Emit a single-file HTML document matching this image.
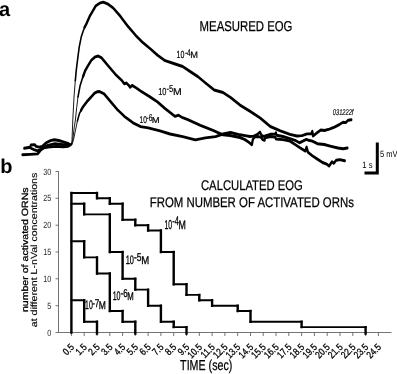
<!DOCTYPE html>
<html><head><meta charset="utf-8"><title>EOG figure</title>
<style>
html,body{margin:0;padding:0;background:#fff;}
body{width:397px;height:374px;overflow:hidden;font-family:"Liberation Sans",sans-serif;}
svg{display:block;will-change:transform;}
svg text{font-family:"Liberation Sans",sans-serif;fill:#000;text-rendering:geometricPrecision;}
</style></head><body>
<svg width="397" height="374" viewBox="0 0 397 374">
<rect width="397" height="374" fill="#fff"/>
<!-- panel a -->
<text x="-1" y="16.2" font-size="20" font-weight="bold">a</text>
<text transform="translate(199.6,31.3) scale(0.795,1)" font-size="14.3" stroke="#000" stroke-width="0.25">MEASURED EOG</text>
<g fill="none" stroke="#000" stroke-linejoin="round" stroke-linecap="round">
<g stroke-width="0.9">
<path d="M71.40 144.8 L72.00 140.2 L72.80 120.0 L74.00 97.0 L75.30 80.7"/><path d="M71.60 144.8 L72.70 140.2 L74.30 126.8 L75.40 120.0 L76.70 107.5 L78.00 96.8"/><path d="M71.80 144.8 L73.40 140.2 L75.40 130.8 L77.40 121.0"/>
</g>
<g stroke-width="1.6">
<path d="M75.30 80.7 L76.30 70.0 L77.40 61.2 L79.20 47.1 L81.20 37.1 L83.20 31.0 L85.20 26.0"/><path d="M78.00 96.8 L80.00 86.1 L82.50 78.0 L83.60 75.4"/><path d="M77.40 121.0 L79.40 113.6 L81.50 109.6"/>
</g>
<g stroke-width="2.9" transform="scale(0.78,1)">
<path d="M108.33 27.3 L110.38 24.5 L115.64 15.3 L122.95 5.7 L127.69 3.2 L132.44 2.2 L137.82 3.8 L145.13 8.0 L154.49 16.4 L164.10 26.4 L173.85 35.3 L183.46 42.8 L193.21 49.1 L202.05 55.2 L211.67 60.7 L224.62 64.0 L234.23 66.5 L243.97 71.6 L253.72 76.6 L263.33 82.9 L274.62 90.0 L285.90 92.5 L295.64 97.5 L307.69 105.1 L320.77 111.4 L333.59 118.0 L346.54 126.5 L359.49 130.8 L371.79 134.3 L380.64 136.0 L387.18 135.6 L393.72 133.9 L399.23 133.9 L400.38 131.2 L401.41 136.0 L406.92 132.6 L411.28 130.0 L415.77 130.5 L422.31 129.1 L428.85 127.1 L435.51 124.3 L439.87 122.3 L443.21 122.6 L446.41 120.2 L450.38 119.7"/><path d="M106.41 76.6 L109.23 70.6 L112.31 66.3 L117.18 60.1 L122.18 56.8 L125.90 56.0 L130.26 57.9 L138.33 65.5 L147.95 74.3 L156.41 80.7 L159.36 83.8 L162.18 83.0 L165.00 85.3 L166.79 87.3 L169.36 85.4 L174.36 87.8 L180.26 91.0 L192.31 96.9 L202.05 102.0 L211.54 108.5 L220.51 114.0 L224.62 116.4 L228.85 115.2 L234.23 117.7 L240.77 119.7 L256.92 125.3 L273.08 130.3 L285.90 134.8 L294.87 135.5 L307.69 137.5 L314.10 139.6 L318.97 142.2 L322.95 144.7 L324.10 139.6 L326.15 137.1 L330.26 136.5 L334.23 137.1 L336.67 139.6 L339.10 140.3 L340.00 137.7 L346.41 136.5 L352.82 137.1 L353.72 139.0 L362.56 139.6 L368.97 140.6 L371.79 141.1 L378.33 144.5 L385.00 148.0 L391.54 151.1 L393.08 147.1 L394.87 152.3 L400.38 155.7 L406.92 159.1 L413.46 162.5 L418.97 164.2 L421.92 166.0 L425.64 161.7 L427.82 163.4 L431.03 160.3 L435.51 159.6 L442.05 160.8"/><path d="M103.85 110.4 L106.03 107.3 L111.15 101.9 L116.41 97.3 L121.28 93.2 L125.00 91.7 L127.56 91.5 L133.46 93.9 L141.54 101.4 L151.15 110.2 L160.90 117.3 L170.51 122.8 L180.26 126.6 L190.00 127.9 L205.13 130.8 L217.95 134.0 L234.23 136.6 L250.38 139.9 L263.33 137.9 L276.28 136.6 L285.90 134.0 L295.64 132.5 L307.69 134.8 L314.10 135.6 L320.51 136.5 L325.38 136.1 L329.49 134.6 L333.21 132.1 L334.74 134.6 L336.67 136.5 L340.00 135.9 L346.41 134.3 L352.82 134.0 L353.72 132.7 L354.49 135.2 L362.56 136.5 L371.79 138.6 L378.33 140.3 L383.85 142.8 L388.21 141.1 L392.69 139.4 L395.90 140.3 L400.38 141.1 L406.92 143.7 L415.77 144.5 L424.49 146.3 L433.33 148.0 L439.87 148.8 L445.38 148.0"/>
<path d="M28.85 154.7 L38.59 154.4 L48.21 153.9 L52.18 150.1 L56.03 147.9 L61.79 147.1 L71.54 146.4 L81.15 146.8 L87.05 146.4 L90.13 144.8"/><path d="M31.15 148.3 L38.59 147.2 L39.62 145.0 L44.36 144.6 L46.28 146.4 L50.26 147.1 L54.10 146.4 L58.97 142.8 L64.74 140.6 L69.62 139.7 L75.38 140.5 L81.15 141.9 L87.05 143.4 L90.13 144.8"/><path d="M39.10 148.0 L43.59 149.6 L48.21 150.9 L52.18 149.4 L58.97 146.0 L70.51 143.6 L80.77 144.6 L89.74 144.8"/>
</g>
</g>
<text transform="translate(176.57,58.40) scale(0.683,1)" font-size="10.29" stroke="#000" stroke-width="0.20">10</text><text transform="translate(184.91,55.70) scale(0.662,1)" font-size="10.00" stroke="#000" stroke-width="0.20">-4</text><text transform="translate(190.14,58.40) scale(0.981,1)" font-size="9.45" stroke="#000" stroke-width="0.20">M</text>
<text transform="translate(158.14,94.70) scale(0.732,1)" font-size="10.14" stroke="#000" stroke-width="0.20">10</text><text transform="translate(166.46,92.10) scale(0.762,1)" font-size="10.00" stroke="#000" stroke-width="0.20">-5</text><text transform="translate(172.94,94.70) scale(1.059,1)" font-size="9.88" stroke="#000" stroke-width="0.20">M</text>
<text transform="translate(139.60,122.70) scale(0.681,1)" font-size="9.71" stroke="#000" stroke-width="0.20">10</text><text transform="translate(146.61,120.50) scale(0.662,1)" font-size="10.00" stroke="#000" stroke-width="0.20">-6</text><text transform="translate(151.73,122.70) scale(1.080,1)" font-size="8.72" stroke="#000" stroke-width="0.20">M</text>
<text transform="translate(332.8,115.0) scale(0.68,1)" font-size="8.4" font-style="italic" stroke="#000" stroke-width="0.15">031222f</text>
<path d="M377.3 142.4V172.9H364.5" fill="none" stroke="#000" stroke-width="3"/>
<text transform="translate(380.1,156.9) scale(0.83,1)" font-size="9">5 mV</text>
<text transform="translate(362.3,168.2) scale(0.85,1)" font-size="9">1 s</text>
<!-- panel b -->
<text x="0.2" y="173.4" font-size="20" font-weight="bold">b</text>
<text transform="translate(251.9,189.6) scale(0.805,1)" text-anchor="middle" font-size="14" stroke="#000" stroke-width="0.25">CALCULATED EOG</text>
<text transform="translate(251.8,207.2) scale(0.8145,1)" text-anchor="middle" font-size="14" stroke="#000" stroke-width="0.25">FROM NUMBER OF ACTIVATED ORNs</text>
<g fill="none" stroke="#505050" stroke-width="0.8">
<path d="M58.5 171V332.5H391.5"/>
<path d="M55.5 332.5H58.5"/><path d="M55.5 305.7H58.5"/><path d="M55.5 278.8H58.5"/><path d="M55.5 252.0H58.5"/><path d="M55.5 225.2H58.5"/><path d="M55.5 198.3H58.5"/><path d="M55.5 171.5H58.5"/><path d="M71.4 332.5V336"/><path d="M84.2 332.5V336"/><path d="M97.0 332.5V336"/><path d="M109.8 332.5V336"/><path d="M122.6 332.5V336"/><path d="M135.3 332.5V336"/><path d="M148.1 332.5V336"/><path d="M160.9 332.5V336"/><path d="M173.7 332.5V336"/><path d="M186.5 332.5V336"/><path d="M199.3 332.5V336"/><path d="M212.1 332.5V336"/><path d="M224.9 332.5V336"/><path d="M237.7 332.5V336"/><path d="M250.5 332.5V336"/><path d="M263.2 332.5V336"/><path d="M276.0 332.5V336"/><path d="M288.8 332.5V336"/><path d="M301.6 332.5V336"/><path d="M314.4 332.5V336"/><path d="M327.2 332.5V336"/><path d="M340.0 332.5V336"/><path d="M352.8 332.5V336"/><path d="M365.6 332.5V336"/><path d="M378.4 332.5V336"/>
</g>
<text transform="translate(51.3,335.6) scale(0.8,1)" text-anchor="end" font-size="9" style="fill:#2a2a2a">0</text><text transform="translate(51.3,308.8) scale(0.8,1)" text-anchor="end" font-size="9" style="fill:#2a2a2a">5</text><text transform="translate(51.3,281.9) scale(0.8,1)" text-anchor="end" font-size="9" style="fill:#2a2a2a">10</text><text transform="translate(51.3,255.1) scale(0.8,1)" text-anchor="end" font-size="9" style="fill:#2a2a2a">15</text><text transform="translate(51.3,228.3) scale(0.8,1)" text-anchor="end" font-size="9" style="fill:#2a2a2a">20</text><text transform="translate(51.3,201.4) scale(0.8,1)" text-anchor="end" font-size="9" style="fill:#2a2a2a">25</text><text transform="translate(51.3,174.6) scale(0.8,1)" text-anchor="end" font-size="9" style="fill:#2a2a2a">30</text>
<text transform="translate(74.8,347.8) rotate(-45) scale(0.82,1)" text-anchor="end" font-size="10" stroke="#000" stroke-width="0.3">0.5</text><text transform="translate(87.6,347.8) rotate(-45) scale(0.82,1)" text-anchor="end" font-size="10" stroke="#000" stroke-width="0.3">1.5</text><text transform="translate(100.4,347.8) rotate(-45) scale(0.82,1)" text-anchor="end" font-size="10" stroke="#000" stroke-width="0.3">2.5</text><text transform="translate(113.2,347.8) rotate(-45) scale(0.82,1)" text-anchor="end" font-size="10" stroke="#000" stroke-width="0.3">3.5</text><text transform="translate(126.0,347.8) rotate(-45) scale(0.82,1)" text-anchor="end" font-size="10" stroke="#000" stroke-width="0.3">4.5</text><text transform="translate(138.8,347.8) rotate(-45) scale(0.82,1)" text-anchor="end" font-size="10" stroke="#000" stroke-width="0.3">5.5</text><text transform="translate(151.5,347.8) rotate(-45) scale(0.82,1)" text-anchor="end" font-size="10" stroke="#000" stroke-width="0.3">6.5</text><text transform="translate(164.3,347.8) rotate(-45) scale(0.82,1)" text-anchor="end" font-size="10" stroke="#000" stroke-width="0.3">7.5</text><text transform="translate(177.1,347.8) rotate(-45) scale(0.82,1)" text-anchor="end" font-size="10" stroke="#000" stroke-width="0.3">8.5</text><text transform="translate(189.9,347.8) rotate(-45) scale(0.82,1)" text-anchor="end" font-size="10" stroke="#000" stroke-width="0.3">9.5</text><text transform="translate(202.7,347.8) rotate(-45) scale(0.82,1)" text-anchor="end" font-size="10" stroke="#000" stroke-width="0.3">10.5</text><text transform="translate(215.5,347.8) rotate(-45) scale(0.82,1)" text-anchor="end" font-size="10" stroke="#000" stroke-width="0.3">11.5</text><text transform="translate(228.3,347.8) rotate(-45) scale(0.82,1)" text-anchor="end" font-size="10" stroke="#000" stroke-width="0.3">12.5</text><text transform="translate(241.1,347.8) rotate(-45) scale(0.82,1)" text-anchor="end" font-size="10" stroke="#000" stroke-width="0.3">13.5</text><text transform="translate(253.9,347.8) rotate(-45) scale(0.82,1)" text-anchor="end" font-size="10" stroke="#000" stroke-width="0.3">14.5</text><text transform="translate(266.6,347.8) rotate(-45) scale(0.82,1)" text-anchor="end" font-size="10" stroke="#000" stroke-width="0.3">15.5</text><text transform="translate(279.4,347.8) rotate(-45) scale(0.82,1)" text-anchor="end" font-size="10" stroke="#000" stroke-width="0.3">16.5</text><text transform="translate(292.2,347.8) rotate(-45) scale(0.82,1)" text-anchor="end" font-size="10" stroke="#000" stroke-width="0.3">17.5</text><text transform="translate(305.0,347.8) rotate(-45) scale(0.82,1)" text-anchor="end" font-size="10" stroke="#000" stroke-width="0.3">18.5</text><text transform="translate(317.8,347.8) rotate(-45) scale(0.82,1)" text-anchor="end" font-size="10" stroke="#000" stroke-width="0.3">19.5</text><text transform="translate(330.6,347.8) rotate(-45) scale(0.82,1)" text-anchor="end" font-size="10" stroke="#000" stroke-width="0.3">20.5</text><text transform="translate(343.4,347.8) rotate(-45) scale(0.82,1)" text-anchor="end" font-size="10" stroke="#000" stroke-width="0.3">21.5</text><text transform="translate(356.2,347.8) rotate(-45) scale(0.82,1)" text-anchor="end" font-size="10" stroke="#000" stroke-width="0.3">22.5</text><text transform="translate(369.0,347.8) rotate(-45) scale(0.82,1)" text-anchor="end" font-size="10" stroke="#000" stroke-width="0.3">23.5</text><text transform="translate(381.8,347.8) rotate(-45) scale(0.82,1)" text-anchor="end" font-size="10" stroke="#000" stroke-width="0.3">24.5</text>
<g fill="none" stroke="#000" stroke-linecap="square">
<path stroke-width="1.9" d="M71.4 193.0H97.0M97.0 198.3H109.8M109.8 203.7H122.6M122.6 219.8H135.3M135.3 225.2H148.1M148.1 230.5H160.9M160.9 252.0H173.7M173.7 284.2H186.5M186.5 294.9H199.3M199.3 300.3H212.1M212.1 305.7H237.7M237.7 311.0H250.5M250.5 321.8H301.6M301.6 327.1H365.6M71.4 203.7H84.2M84.2 214.4H109.8M109.8 252.0H122.6M122.6 278.8H135.3M135.3 289.6H148.1M148.1 305.7H160.9M160.9 321.8H173.7M173.7 327.1H186.5M71.4 241.3H84.2M84.2 257.4H97.0M97.0 273.5H109.8M109.8 311.0H122.6M122.6 321.8H135.3M71.4 300.3H84.2M84.2 321.8H97.0"/>
<path stroke-width="2.4" d="M71.4 332.5V193.0M97.0 193.0V198.3M109.8 198.3V203.7M122.6 203.7V219.8M135.3 219.8V225.2M148.1 225.2V230.5M160.9 230.5V252.0M173.7 252.0V284.2M186.5 284.2V294.9M199.3 294.9V300.3M212.1 300.3V305.7M237.7 305.7V311.0M250.5 311.0V321.8M301.6 321.8V327.1M365.6 327.1V333.5M71.4 332.5V203.7M84.2 203.7V214.4M109.8 214.4V252.0M122.6 252.0V278.8M135.3 278.8V289.6M148.1 289.6V305.7M160.9 305.7V321.8M173.7 321.8V327.1M186.5 327.1V333.5M71.4 332.5V241.3M84.2 241.3V257.4M97.0 257.4V273.5M109.8 273.5V311.0M122.6 311.0V321.8M135.3 321.8V333.5M71.4 332.5V300.3M84.2 300.3V321.8M97.0 321.8V333.5"/>
</g>
<text transform="translate(164.47,228.60) scale(0.538,1)" font-size="12.86" stroke="#000" stroke-width="0.30">10</text><text transform="translate(172.27,224.60) scale(0.597,1)" font-size="12.57" stroke="#000" stroke-width="0.30">-4</text><text transform="translate(178.38,228.60) scale(0.706,1)" font-size="12.50" stroke="#000" stroke-width="0.30">M</text>
<text transform="translate(125.74,264.10) scale(0.604,1)" font-size="12.29" stroke="#000" stroke-width="0.30">10</text><text transform="translate(134.03,261.30) scale(0.744,1)" font-size="11.43" stroke="#000" stroke-width="0.30">-5</text><text transform="translate(141.22,264.10) scale(0.844,1)" font-size="11.34" stroke="#000" stroke-width="0.30">M</text>
<text transform="translate(112.67,300.00) scale(0.565,1)" font-size="12.43" stroke="#000" stroke-width="0.30">10</text><text transform="translate(120.55,297.20) scale(0.689,1)" font-size="11.43" stroke="#000" stroke-width="0.30">-6</text><text transform="translate(127.36,300.00) scale(0.686,1)" font-size="11.34" stroke="#000" stroke-width="0.30">M</text>
<text transform="translate(85.07,309.40) scale(0.557,1)" font-size="12.43" stroke="#000" stroke-width="0.30">10</text><text transform="translate(92.14,306.60) scale(0.711,1)" font-size="11.43" stroke="#000" stroke-width="0.30">-7</text><text transform="translate(98.80,309.40) scale(0.752,1)" font-size="11.34" stroke="#000" stroke-width="0.30">M</text>
<text transform="translate(27.8,312.1) rotate(-90)" font-size="9" stroke="#000" stroke-width="0.3" textLength="124.7" lengthAdjust="spacingAndGlyphs">number of activated ORNs</text>
<text transform="translate(37.2,327.2) rotate(-90)" font-size="9" stroke="#000" stroke-width="0.12" textLength="154.5" lengthAdjust="spacingAndGlyphs">at different L-nVal concentrations</text>
<text transform="translate(206.2,370.2) scale(0.736,1)" text-anchor="middle" font-size="14.5" stroke="#000" stroke-width="0.25">TIME (sec)</text>
</svg>
</body></html>
